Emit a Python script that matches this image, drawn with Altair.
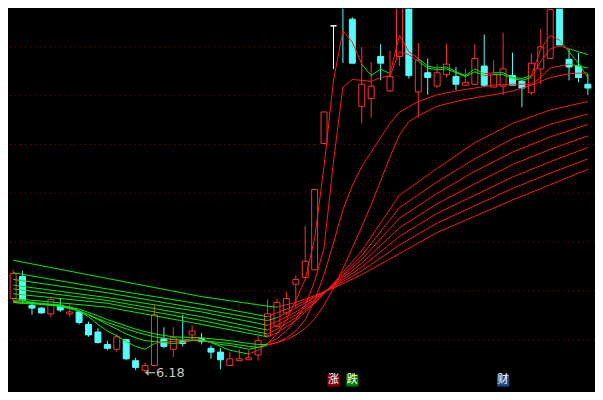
import numpy as np
import pandas as pd
import altair as alt

# ---------------- candles (day index, OHLC) ----------------
days = list(range(-1, 61))
opens = [7.74, 8.20, 7.60, 7.54, 7.42, 7.60, 7.42, 7.46, 7.20, 7.04, 6.78, 6.68, 6.88, 6.44, 6.24,
         6.34, 6.90, 6.68, 6.86, 6.98, 6.90, 6.70, 6.62, 6.34, 6.44, 6.46, 6.56, 6.96, 7.16, 7.44,
         8.04, 8.18, 8.34, 10.98, 13.44, 14.30, 13.58, 11.76, 11.92, 12.80, 12.08, 12.80, 13.96, 12.06,
         12.46, 12.18, 12.42, 12.38, 12.20, 12.22, 12.60, 12.16, 12.18, 12.40, 12.28, 12.04, 12.54,
         12.76, 14.00, 12.74, 12.60, 12.22]
highs = [8.34, 8.32, 7.66, 7.56, 7.74, 7.74, 7.64, 7.48, 7.26, 7.12, 6.86, 7.00, 6.90, 6.50, 6.40,
         7.60, 7.14, 7.14, 7.40, 7.18, 7.02, 6.76, 6.70, 6.62, 6.68, 6.66, 6.96, 7.72, 7.74, 7.88,
         8.22, 9.26, 10.02, 11.64, 13.44, 14.40, 13.62, 13.00, 12.68, 13.06, 12.92, 14.10, 14.00, 13.08,
         12.76, 12.64, 13.06, 12.58, 12.54, 13.06, 13.26, 12.72, 13.30, 12.88, 12.32, 12.86, 13.38,
         13.90, 14.05, 12.96, 12.88, 12.44]
lows = [7.68, 7.64, 7.40, 7.42, 7.34, 7.46, 7.36, 7.20, 6.94, 6.80, 6.66, 6.62, 6.46, 6.24, 6.18,
        6.32, 6.70, 6.52, 6.74, 6.86, 6.78, 6.48, 6.26, 6.34, 6.44, 6.46, 6.44, 6.94, 7.14, 7.40,
        7.54, 8.14, 8.34, 10.98, 12.54, 12.66, 12.66, 11.40, 11.52, 12.30, 12.06, 12.60, 12.34, 11.52,
        12.00, 12.14, 12.36, 12.10, 12.20, 12.20, 12.16, 12.16, 12.00, 12.20, 11.74, 12.00, 12.22,
        12.76, 13.04, 12.30, 12.26, 12.00]
closes = [8.26, 7.70, 7.54, 7.44, 7.72, 7.50, 7.46, 7.24, 6.98, 6.82, 6.70, 6.94, 6.48, 6.30, 6.34,
          7.40, 6.74, 6.92, 6.80, 7.06, 6.84, 6.62, 6.46, 6.48, 6.48, 6.50, 6.86, 7.42, 7.66, 7.74,
          8.14, 8.52, 10.02, 11.64, 13.44, 13.86, 12.66, 12.22, 12.18, 12.66, 12.38, 14.00, 12.40, 12.72,
          12.36, 12.46, 12.64, 12.22, 12.26, 12.76, 12.20, 12.42, 12.54, 12.20, 12.14, 12.66, 13.00,
          13.78, 13.04, 12.58, 12.36, 12.14]

low_label = "←6.18"
low_day = 13

# ---------------- moving averages ----------------
fast_days = list(range(-1, 61))
ma_fast = [7.70, 7.70, 7.66, 7.62, 7.62, 7.60, 7.56, 7.48, 7.36, 7.20, 7.06, 6.96, 6.84, 6.74, 6.68,
           6.80, 6.84, 6.84, 6.86, 6.90, 6.88, 6.82, 6.74, 6.66, 6.62, 6.58, 6.66, 6.80, 7.00, 7.30,
           7.70, 8.14, 9.00, 10.50, 12.30, 13.34, 13.10, 12.64, 12.40, 12.54, 12.44, 13.24, 12.90, 12.76,
           12.60, 12.56, 12.58, 12.48, 12.40, 12.54, 12.44, 12.46, 12.46, 12.36, 12.34, 12.40, 12.96,
           13.24, 13.14, 12.90, 12.66, 12.36]
ma_fast2 = [7.66, 7.64, 7.64, 7.62, 7.60, 7.58, 7.54, 7.48, 7.40, 7.30, 7.20, 7.10, 7.00, 6.92, 6.86,
            6.84, 6.82, 6.80, 6.82, 6.86, 6.86, 6.82, 6.78, 6.76, 6.72, 6.68, 6.72, 6.80, 6.90, 7.06,
            7.30, 7.60, 8.10, 8.80, 10.60, 12.16, 12.32, 12.30, 12.28, 12.36, 12.40, 12.90, 12.84, 12.70,
            12.56, 12.52, 12.54, 12.46, 12.38, 12.48, 12.40, 12.42, 12.42, 12.34, 12.30, 12.36, 12.70,
            12.96, 13.02, 12.96, 12.90, 12.84]

m1_days = [-1, 2, 4, 6, 8, 9, 12, 14, 16, 19, 22, 24, 25, 26, 27, 28, 29, 30, 31, 32, 33, 34, 35,
           36, 37, 38, 39, 40, 42, 44, 46, 48, 50, 52, 54, 55, 56, 58, 60]
ma_m1 = [7.66, 7.62, 7.58, 7.48, 7.32, 7.24, 7.04, 6.94, 6.88, 6.86, 6.80, 6.74, 6.72, 6.76, 6.82,
         6.92, 7.06, 7.30, 7.70, 8.24, 8.90, 9.60, 10.10, 10.50, 10.80, 11.10, 11.40, 11.64, 11.86,
         12.00, 12.08, 12.14, 12.20, 12.22, 12.22, 12.36, 12.56, 12.64, 12.56]
m2_days = [-1, 2, 4, 6, 8, 9, 12, 14, 16, 19, 22, 24, 25, 26, 27, 28, 29, 30, 31, 32, 33, 34, 35,
           36, 37, 38, 39, 40, 41, 42, 44, 46, 48, 50, 52, 54, 56, 58, 60]
ma_m2 = [7.68, 7.64, 7.60, 7.52, 7.38, 7.30, 7.10, 7.00, 6.94, 6.92, 6.86, 6.80, 6.78, 6.78, 6.82,
         6.88, 6.98, 7.12, 7.32, 7.60, 7.96, 8.36, 8.80, 9.24, 9.70, 10.20, 10.70, 11.16, 11.44,
         11.56, 11.76, 11.86, 11.94, 12.00, 12.08, 12.20, 12.36, 12.44, 12.46]

long_days = [-1, 9, 19, 26, 27, 29, 31, 33, 36, 40, 44, 48, 52, 56, 60]
ma_l1 = [7.74, 7.56, 7.20, 6.94, 7.02, 7.28, 7.64, 8.06, 8.74, 9.90, 10.46, 11.00, 11.40, 11.68, 11.86]
ma_l2 = [7.84, 7.64, 7.28, 7.00, 7.10, 7.34, 7.66, 8.04, 8.64, 9.64, 10.18, 10.66, 11.08, 11.38, 11.60]
ma_l3 = [7.94, 7.70, 7.36, 7.08, 7.18, 7.40, 7.70, 8.04, 8.56, 9.42, 9.94, 10.40, 10.80, 11.12, 11.38]
ma_l4 = [8.02, 7.76, 7.46, 7.18, 7.26, 7.46, 7.72, 8.02, 8.48, 9.22, 9.72, 10.14, 10.54, 10.86, 11.14]
ma_l5 = [8.14, 7.86, 7.52, 7.28, 7.34, 7.54, 7.76, 8.00, 8.40, 9.04, 9.52, 9.90, 10.28, 10.60, 10.90]
ma_l6 = [8.28, 7.94, 7.62, 7.36, 7.44, 7.60, 7.78, 7.98, 8.32, 8.86, 9.32, 9.68, 10.04, 10.36, 10.66]
ma_l7 = [8.54, 8.16, 7.78, 7.58, 7.56, 7.66, 7.80, 7.96, 8.24, 8.68, 9.12, 9.46, 9.80, 10.12, 10.44]

grid_levels = [13.00, 11.98, 10.96, 9.94, 8.92, 7.90, 6.88]

marker_days = [33, 35, 51]
marker_text = ["涨", "跌", "财"]
marker_kind = ["rise", "fall", "fin"]

# ---------------- tables ----------------
RED, CYAN, WHITE = "#ff3232", "#54fcfc", "#ffffff"
c = pd.DataFrame(dict(day=days, open=opens, high=highs, low=lows, close=closes))
c["stroke"] = np.where(c.close > c.open, RED, np.where(c.close < c.open, CYAN, WHITE))
c["fill"] = np.where(c.close > c.open, "#000000", np.where(c.close < c.open, CYAN, WHITE))

series = {
    "f": (fast_days, ma_fast), "f2": (fast_days, ma_fast2),
    "m1": (m1_days, ma_m1), "m2": (m2_days, ma_m2),
    "l1": (long_days, ma_l1), "l2": (long_days, ma_l2), "l3": (long_days, ma_l3),
    "l4": (long_days, ma_l4), "l5": (long_days, ma_l5), "l6": (long_days, ma_l6),
    "l7": (long_days, ma_l7),
}
rows = []
for name, (dd, vv) in series.items():
    dd = np.asarray(dd, float)
    vv = np.asarray(vv, float)
    for k in range(len(dd) - 1):
        ref = np.interp(dd[k + 1] - 3, dd, vv)
        col = "#ff1a1a" if vv[k + 1] >= ref - 1e-9 else "#00ee00"
        rows.append(dict(line=name, d0=dd[k], v0=vv[k], d1=dd[k + 1], v1=vv[k + 1], col=col))
segs = pd.DataFrame(rows)

grid = pd.DataFrame(dict(level=grid_levels))
marks = pd.DataFrame(dict(day=marker_days, txt=marker_text, kind=marker_kind))
marks["bg"] = marks.kind.map({"rise": "#8c0000", "fall": "#008000", "fin": "#1c4c8c"})
lowdf = pd.DataFrame(dict(day=[low_day], price=[min(lows)], txt=[low_label]))

xs = alt.Scale(domain=[-0.911, 60.12], nice=False, zero=False)
ys = alt.Scale(domain=[5.8, 13.8], nice=False, zero=False)

grid_layer = alt.Chart(grid).mark_rule(color="#9a0000", strokeDash=[1, 4], strokeWidth=1).encode(
    y=alt.Y("level:Q", scale=ys, axis=None))

wicks = alt.Chart(c).mark_rule(strokeWidth=1, clip=True).encode(
    x=alt.X("day:Q", scale=xs, axis=None),
    y=alt.Y("high:Q", scale=ys, axis=None), y2="low:Q",
    color=alt.Color("stroke:N", scale=None))

bodies = alt.Chart(c).mark_bar(size=6, strokeWidth=1, clip=True).encode(
    x=alt.X("day:Q", scale=xs, axis=None),
    y=alt.Y("open:Q", scale=ys, axis=None), y2="close:Q",
    fill=alt.Fill("fill:N", scale=None),
    stroke=alt.Stroke("stroke:N", scale=None))

ma_layer = alt.Chart(segs).mark_rule(strokeWidth=1, clip=True).encode(
    x=alt.X("d0:Q", scale=xs, axis=None), x2="d1:Q",
    y=alt.Y("v0:Q", scale=ys, axis=None), y2="v1:Q",
    color=alt.Color("col:N", scale=None), detail="line:N")

low_layer = alt.Chart(lowdf).mark_text(align="left", baseline="middle", dx=0, fontSize=13,
                                       font="DejaVu Sans", color="#c8c8c8").encode(
    x=alt.X("day:Q", scale=xs, axis=None),
    y=alt.Y("price:Q", scale=ys, axis=None), text="txt:N")

mk_bg = alt.Chart(marks).mark_square(size=150, opacity=1, filled=True).encode(
    x=alt.X("day:Q", scale=xs, axis=None), y=alt.value(373),
    color=alt.Color("bg:N", scale=None))
mk_txt = alt.Chart(marks).mark_text(fontSize=11, font="Noto Sans CJK SC", color="#ffffff",
                                    baseline="middle").encode(
    x=alt.X("day:Q", scale=xs, axis=None), y=alt.value(373), text="txt:N")

chart = alt.layer(grid_layer, wicks, bodies, ma_layer, low_layer, mk_bg, mk_txt).properties(
    width=587, height=384, background="#000000", padding=0
).configure_view(stroke=None)

chart.save("out.html", embed_options={"renderer": "svg", "actions": False})
